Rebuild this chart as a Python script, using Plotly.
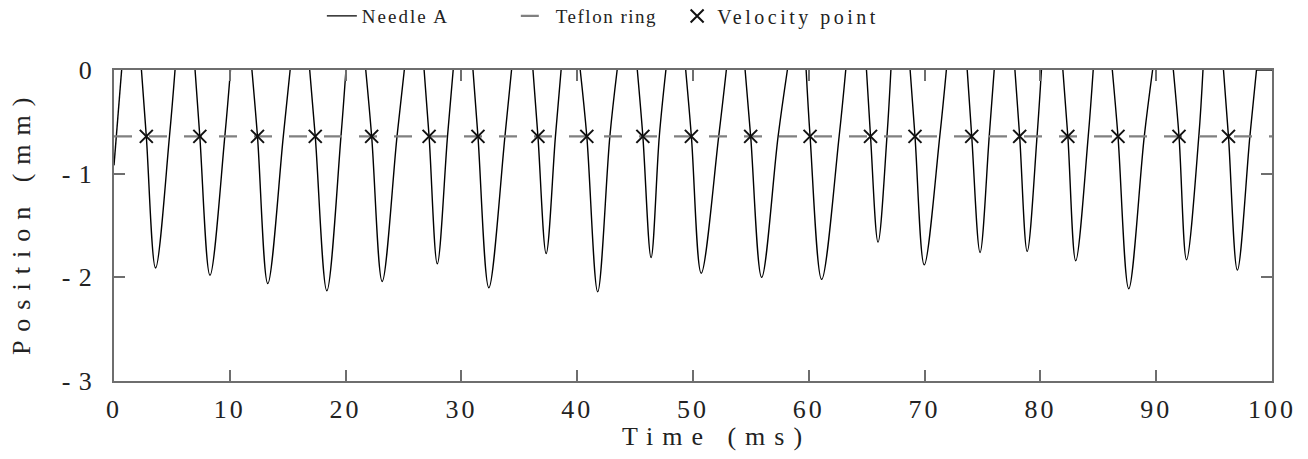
import plotly.graph_objects as go

# ---- data ----
start_t = [0.0, 0.66]
start_pos = [-0.92, 0.0]
dip_leave = [2.37, 7.0, 11.91, 16.9, 21.74, 26.78, 31.0, 36.18, 40.26, 45.19, 49.37,
             54.5, 59.77, 64.98, 68.75, 73.68, 77.8, 81.94, 86.21, 91.48, 95.81]
velocity_t = [2.79, 7.41, 12.39, 17.38, 22.25, 27.21, 31.43, 36.61, 40.83, 45.67, 49.86,
              54.98, 60.11, 65.33, 69.17, 74.07, 78.21, 82.37, 86.7, 91.97, 96.24]
min_t = [3.59, 8.29, 13.28, 18.38, 23.16, 27.92, 32.37, 37.32, 41.77, 46.38, 50.71,
         55.93, 61.11, 65.98, 69.97, 74.79, 78.86, 83.05, 87.63, 92.62, 97.01]
min_pos = [-1.91, -1.98, -2.06, -2.13, -2.04, -1.87, -2.10, -1.77, -2.14, -1.81, -1.96,
           -2.00, -2.02, -1.66, -1.88, -1.76, -1.75, -1.84, -2.11, -1.83, -1.93]
rise_cross_t = [4.79, 9.57, 14.62, 19.6, 24.44, 28.8, 33.76, 38.12, 42.82, 47.09, 52.22,
                57.35, 62.62, 66.75, 71.31, 75.58, 79.71, 84.13, 88.97, 93.68, 98.09]
dip_return = [5.27, 10.06, 15.21, 20.03, 25.07, 29.29, 34.33, 38.61, 43.45, 47.66, 52.88,
              58.15, 63.19, 67.09, 71.88, 76.01, 80.09, 84.56, 89.69, 94.04, 98.66]
end_t = [100.0]
teflon_level = -0.64
teflon_t = [0, 100]
x_ticks = [0, 10, 20, 30, 40, 50, 60, 70, 80, 90, 100]
y_ticks = [0, -1, -2, -3]

# ---- build needle curve from read points (each dip its own smooth segment;
#      the flat part at 0 lies on the top border) ----
needle_t = list(start_t) + [None]
needle_pos = list(start_pos) + [None]
for i in range(len(dip_leave)):
    needle_t += [dip_leave[i], velocity_t[i], min_t[i], rise_cross_t[i], dip_return[i], None]
    needle_pos += [0.0, teflon_level, min_pos[i], teflon_level, 0.0, None]
needle_t += [dip_return[-1]] + end_t
needle_pos += [0.0, 0.0]

FONT = "Liberation Serif"
def spaced(s, sp=4):
    return f'<span style="letter-spacing:{sp}px">{s}</span>'

fig = go.Figure()
fig.add_trace(go.Scatter(
    x=needle_t, y=needle_pos, mode="lines", name=spaced("Needle A", 2), connectgaps=False,
    line=dict(color="black", width=1.4, shape="spline", smoothing=1.0), legend="legend",
))
fig.add_trace(go.Scatter(
    x=teflon_t, y=[teflon_level] * len(teflon_t), mode="lines", name=spaced("Teflon ring", 1.5),
    line=dict(color="#808080", width=2.2, dash="18px,17px"), legend="legend2",
))
fig.add_trace(go.Scatter(
    x=velocity_t, y=[teflon_level] * len(velocity_t), mode="markers", name=spaced("Velocity point", 3.5),
    marker=dict(symbol="x-thin", size=13, line=dict(color="#111111", width=2)), legend="legend3",
))

axis_common = dict(
    showline=True, linecolor="#6e6e6e", linewidth=2, mirror="ticks",
    ticks="inside", ticklen=11, tickwidth=2, tickcolor="#6e6e6e",
    showgrid=False, zeroline=False, layer="above traces",
    tickfont=dict(family=FONT, size=26, color="#222222"),
)
legend_common = dict(orientation="h", xanchor="left", yref="container", y=0.965, yanchor="middle",
                     bgcolor="rgba(0,0,0,0)")
fig.update_layout(
    width=1308, height=459,
    margin=dict(l=114, r=24, t=70, b=78),
    paper_bgcolor="white", plot_bgcolor="white",
    font=dict(family=FONT, color="#222222"),
    xaxis=dict(range=[0, 100], tickvals=x_ticks,
               ticktext=[spaced(str(v), 3) for v in x_ticks],
               ticklabelstandoff=4,
               **axis_common),
    yaxis=dict(range=[-3, 0], tickvals=y_ticks,
               ticktext=[spaced(str(v).replace("-", "- "), 1) for v in y_ticks],
               ticklabelstandoff=14,
               **axis_common),
    annotations=[
        dict(text=spaced("Time (ms)", 9), xref="paper", yref="paper", x=0.52, y=-0.18,
             xanchor="center", yanchor="middle", showarrow=False,
             font=dict(family=FONT, size=26, color="#222222")),
        dict(text=spaced("Position (mm)", 9), xref="paper", yref="paper", x=-0.0803, y=0.511,
             xanchor="center", yanchor="middle", showarrow=False, textangle=-90,
             font=dict(family=FONT, size=26, color="#222222")),
    ],
    showlegend=True,
    legend=dict(x=0.1795, font=dict(family=FONT, size=19, color="#222222"), **legend_common),
    legend2=dict(x=0.347, font=dict(family=FONT, size=19, color="#222222"), **legend_common),
    legend3=dict(x=0.4863, font=dict(family=FONT, size=20, color="#222222"), **legend_common),
)
fig.write_html("out.html")
